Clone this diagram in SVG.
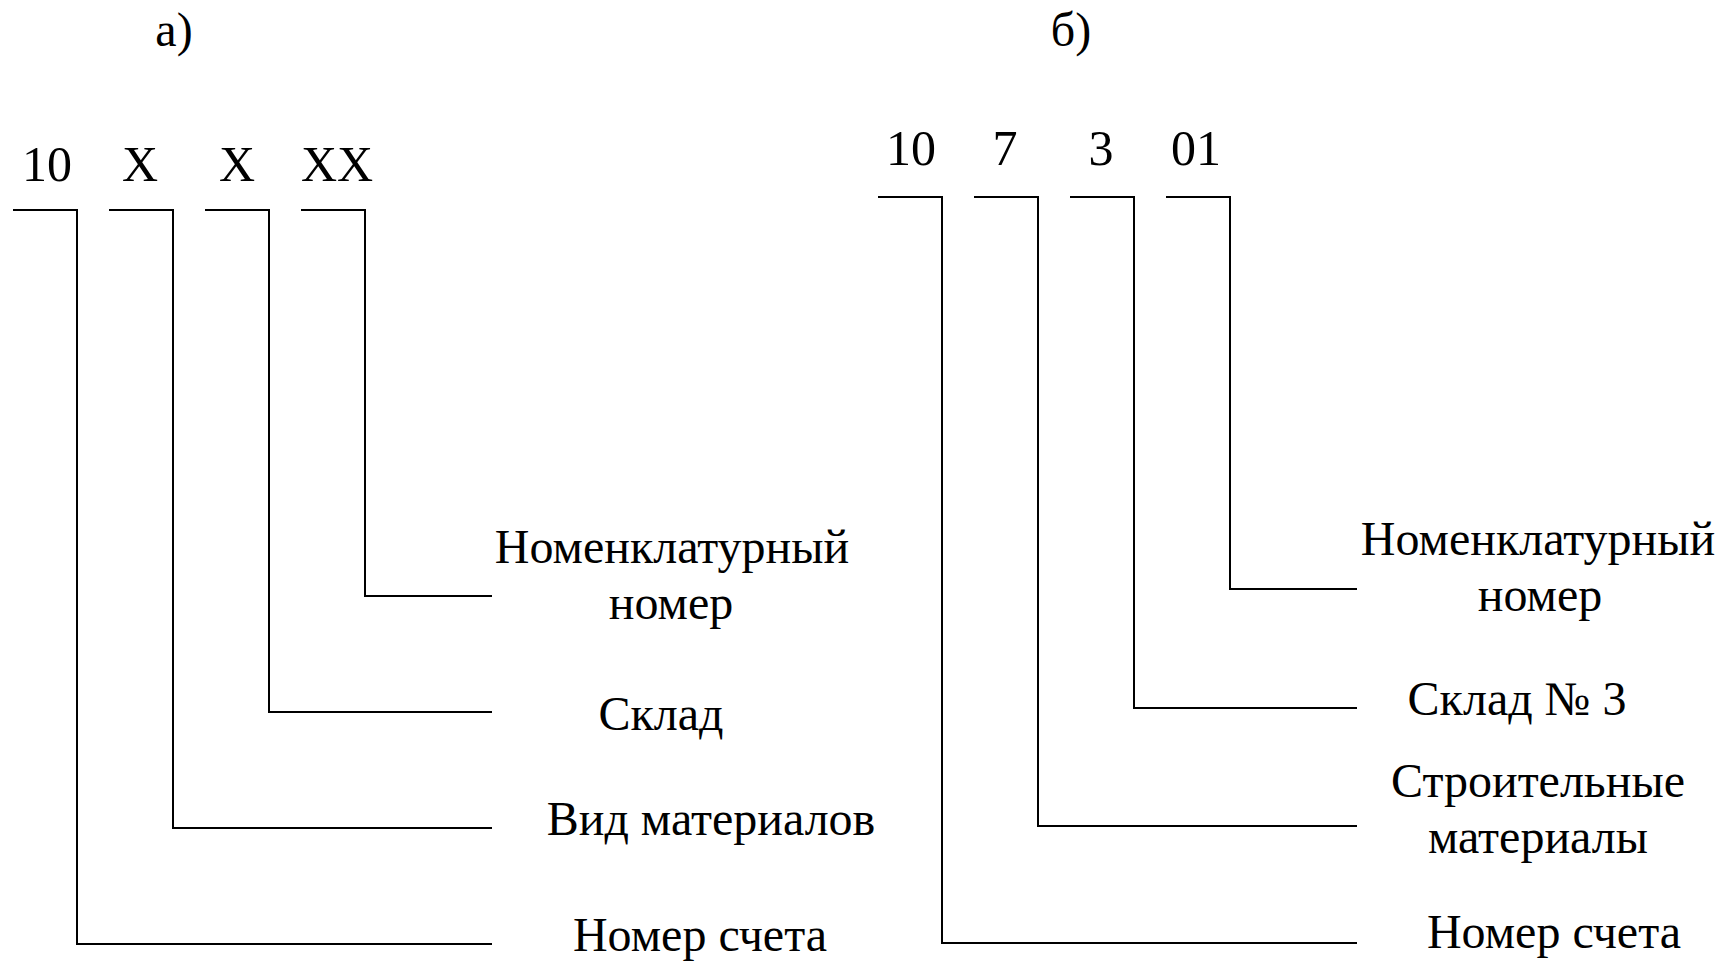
<svg xmlns="http://www.w3.org/2000/svg" width="1724" height="962" viewBox="0 0 1724 962">
<style>
text{font-family:"Liberation Serif","Times New Roman",serif;fill:#000;text-anchor:middle}
.code{font-size:50px}
.lbl{font-size:48px}
.ln{fill:none;stroke:#000;stroke-width:2}
</style>
<rect width="1724" height="962" fill="#fff"/>
<g id="title-a"><text class="lbl" x="174" y="46">а)</text></g>
<g id="title-b"><text class="lbl" x="1071" y="46">б)</text></g>
<g id="code-a">
<text class="code" x="47" y="181">10</text>
<text class="code" x="140" y="181">X</text>
<text class="code" x="237" y="181">X</text>
<text class="code" x="337" y="181">XX</text>
</g>
<g id="code-b">
<text class="code" x="911" y="165">10</text>
<text class="code" x="1005" y="165">7</text>
<text class="code" x="1101" y="165">3</text>
<text class="code" x="1196" y="165">01</text>
</g>
<g id="labels-a">
<text class="lbl" x="672" y="563">Номенклатурный</text>
<text class="lbl" x="671" y="619">номер</text>
<text class="lbl" x="661" y="730">Склад</text>
<text class="lbl" x="711" y="835">Вид материалов</text>
<text class="lbl" x="700" y="951">Номер счета</text>
</g>
<g id="labels-b">
<text class="lbl" x="1538" y="555">Номенклатурный</text>
<text class="lbl" x="1540" y="611">номер</text>
<text class="lbl" x="1517" y="715">Склад № 3</text>
<text class="lbl" x="1538" y="797">Строительные</text>
<text class="lbl" x="1538" y="853">материалы</text>
<text class="lbl" x="1554" y="948">Номер счета</text>
</g>
<g id="connectors">
<path class="ln" d="M13 210H77V944H492"/>
<path class="ln" d="M109 210H173V828H492"/>
<path class="ln" d="M205 210H269V712H492"/>
<path class="ln" d="M301 210H365V596H492"/>
<path class="ln" d="M878 197H942V943H1357"/>
<path class="ln" d="M974 197H1038V826H1357"/>
<path class="ln" d="M1070 197H1134V708H1357"/>
<path class="ln" d="M1166 197H1230V589H1357"/>
</g>
</svg>
